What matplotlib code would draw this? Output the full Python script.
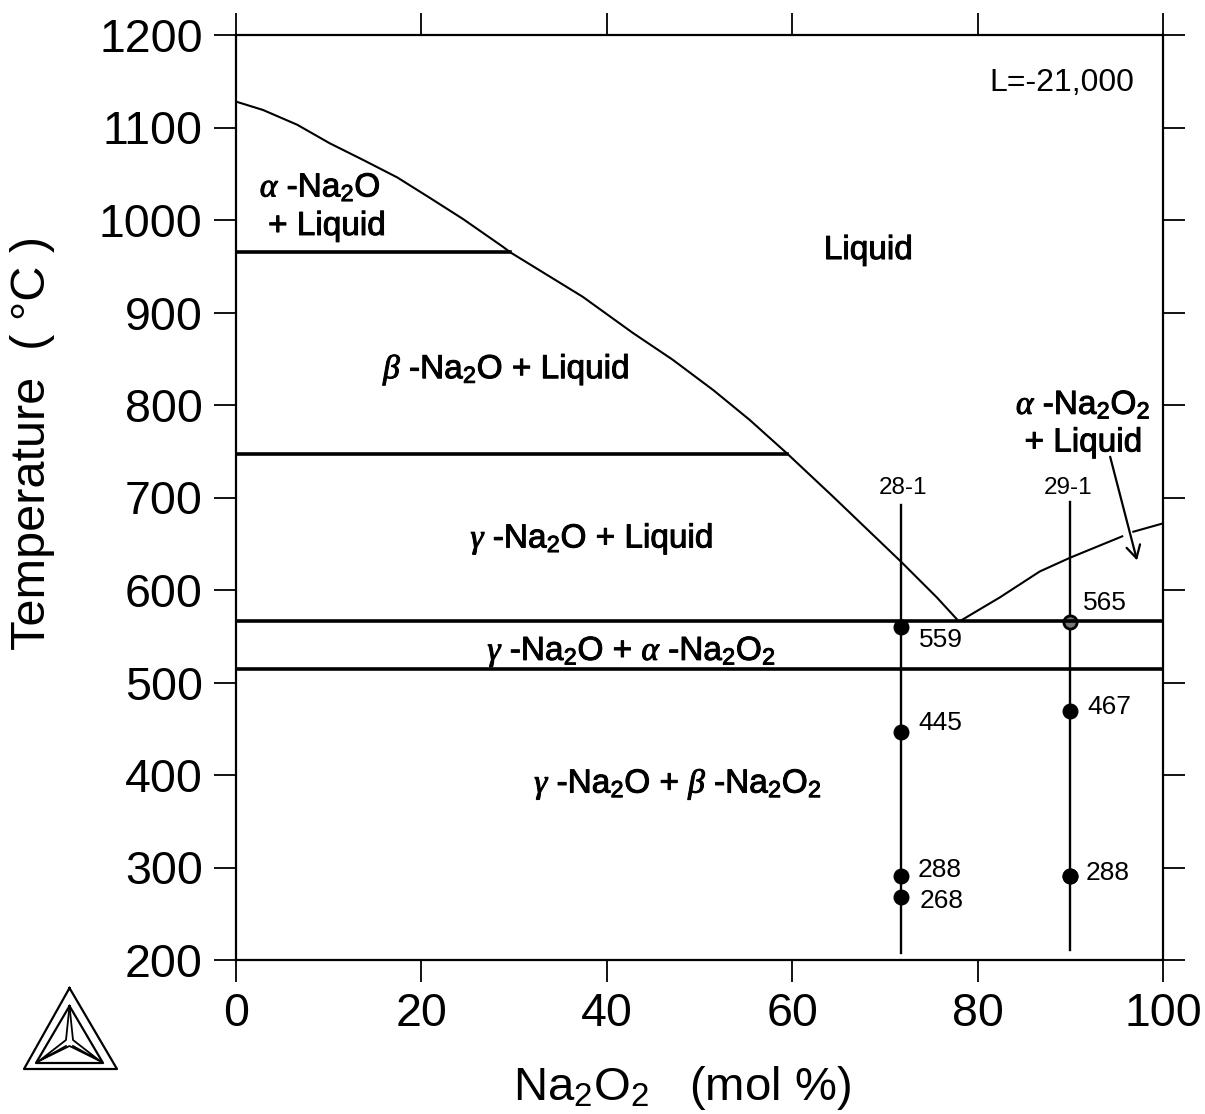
import numpy as np
import matplotlib
matplotlib.use("Agg")
import matplotlib.pyplot as plt
import matplotlib.patheffects as pe

plt.rcParams["font.family"] = ["Liberation Sans", "DejaVu Sans"]
plt.rcParams["mathtext.fontset"] = "custom"
plt.rcParams["mathtext.rm"] = "Liberation Sans"
plt.rcParams["mathtext.it"] = "Liberation Serif:italic"
plt.rcParams["mathtext.bf"] = "Liberation Sans:bold"

# Liquidus curves
liq_left_x = [0, 2.9, 6.6, 10.1, 13.7, 17.4, 20.9, 24.5, 28.8, 29.6, 37.4, 42.8, 47.1,
              51.5, 55.4, 59.4, 64.4, 71.8, 75.6, 77.8]
liq_left_t = [1128, 1119, 1103, 1083, 1065, 1046, 1024, 1001, 971, 965, 917, 878, 849,
              816, 784, 748, 701, 630, 592, 568]
# nan leaves the small break where the arrow crosses the curve
liq_right_x = [78.2, 82.4, 86.7, 90, 95.6, np.nan, 96.8, 100]
liq_right_t = [567, 592, 620, 635, 658, np.nan, 663, 672]

# Horizontal invariant lines: temperature, end x
inv_t = [965, 747, 567, 515]
inv_end = [29.6, 59.4, 100, 100]

# Sample compositions and measured points
s1_x = 71.75
s1_range = [692, 208]
s1_t = [560, 446, 291, 268]
s1_lab = ["559", "445", "288", "268"]
s2_x = 90
s2_range = [695, 211]
s2_t = [565, 469, 291]
s2_lab = ["565", "467", "288"]

xticks = [0, 20, 40, 60, 80, 100]
yticks = [200, 300, 400, 500, 600, 700, 800, 900, 1000, 1100, 1200]

fig = plt.figure(figsize=(12.05, 11.14), dpi=100)
ax = fig.add_axes([236 / 1205, 1 - 960 / 1114, 927 / 1205, 925 / 1114])

ax.plot(liq_left_x, liq_left_t, color="black", lw=1.5)
ax.plot(liq_right_x, liq_right_t, color="black", lw=1.5)

ax.plot([s1_x, s1_x], s1_range, color="black", lw=1.7)
ax.plot([s2_x, s2_x], s2_range, color="black", lw=1.7)
ax.plot([s1_x] * len(s1_t), s1_t, "o", color="black", ms=10.5)
ax.plot([s2_x] * 2, s2_t[1:], "o", color="black", ms=10.5)
ax.plot([s2_x], s2_t[0], "o", mfc="#777777", mec="black", mew=2, ms=9.5)
ax.plot([s2_x], s2_t[2], "o", color="black", ms=10.5)
for t, x_end in zip(inv_t, inv_end):
    ax.plot([0, x_end], [t, t], color="black", lw=2.6)

ax.set_xlim(0, 100)
ax.set_ylim(200, 1200)
ax.set_xticks(xticks)
ax.set_yticks(yticks)
ax.tick_params(axis="both", which="major", length=16, width=1.3, labelsize=33.5,
               direction="out", top=True, right=True)
ax.tick_params(axis="x", pad=7)
ax.tick_params(axis="y", pad=8)
for side in ax.spines:
    ax.spines[side].set_linewidth(1.6)

# value labels next to the points
s1_pos = [(76, 546), (76, 456), (75.9, 297), (76.1, 264)]
s2_pos = [(93.7, 586), (94.2, 474), (94, 294)]
for lab, pos in zip(s1_lab + s2_lab, s1_pos + s2_pos):
    ax.text(pos[0], pos[1], lab, fontsize=19, ha="center", va="center")

ax.text(72, 710, "28-1", fontsize=17.5, ha="center", va="center")
ax.text(89.8, 710, "29-1", fontsize=17.5, ha="center", va="center")
ax.text(89.1, 1148, "L=-21,000", fontsize=23, ha="center", va="center")

# phase field labels
stroke = [pe.withStroke(linewidth=0.7, foreground="black")]
fields = [
    (9.1, 1035, r"$\mathit{\alpha}$ -Na$_{\mathrm{2}}$O"),
    (9.8, 993, "+ Liquid"),
    (68.2, 967, "Liquid"),
    (29.2, 838, r"$\mathit{\beta}$ -Na$_{\mathrm{2}}$O + Liquid"),
    (38.4, 655, r"$\mathit{\gamma}$ -Na$_{\mathrm{2}}$O + Liquid"),
    (42.7, 533, r"$\mathit{\gamma}$ -Na$_{\mathrm{2}}$O + $\mathit{\alpha}$ -Na$_{\mathrm{2}}$O$_{\mathrm{2}}$"),
    (47.7, 390, r"$\mathit{\gamma}$ -Na$_{\mathrm{2}}$O + $\mathit{\beta}$ -Na$_{\mathrm{2}}$O$_{\mathrm{2}}$"),
    (91.4, 800, r"$\mathit{\alpha}$ -Na$_{\mathrm{2}}$O$_{\mathrm{2}}$"),
    (91.4, 759, "+ Liquid"),
]
for x, y, s in fields:
    ax.text(x, y, s, fontsize=24, ha="center", va="center", path_effects=stroke)

ax.annotate("", xy=(97.2, 632), xytext=(94.3, 744),
            arrowprops=dict(arrowstyle="->,head_length=0.9,head_width=0.5", color="black", lw=1.6,
                            shrinkA=0, shrinkB=0))

fig.text(682 / 1205, 1 - 1088 / 1114, r"Na$_{\mathrm{2}}$O$_{\mathrm{2}}$   (mol %)",
         fontsize=34, ha="center", va="center")
fig.text(33 / 1205, 1 - 650 / 1114, "Temperature  ( °C )", fontsize=35, rotation=90,
         ha="center", va="bottom")

# Thermo-Calc style logo, in figure pixels
logo = fig.add_axes([0, 0, 1, 1], facecolor="none")
logo.set_xlim(0, 1205)
logo.set_ylim(1114, 0)
logo.axis("off")
logo.plot([69.5, 24, 117, 69.5], [988, 1069, 1069, 988], color="black", lw=1.6)
logo.plot([69.5, 36, 103, 69.5], [1006, 1063, 1063, 1006], color="black", lw=1.6)
logo.plot([69.5, 66, 39, 66], [1006, 1040, 1061, 1046], color="black", lw=1.3)
logo.plot([69.5, 73, 100, 73], [1006, 1040, 1061, 1046], color="black", lw=1.3)
logo.plot([39, 69.5, 100], [1061, 1046, 1061], color="black", lw=1.3)

fig.savefig("out.png", dpi=100)
